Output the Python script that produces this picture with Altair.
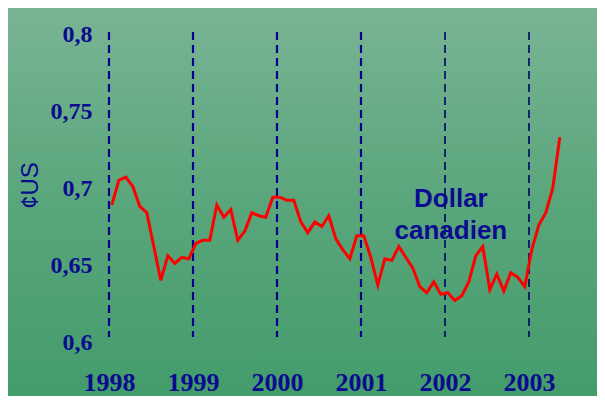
import altair as alt
import pandas as pd

# Monthly Canadian dollar in US cents (Jan 1998 .. May 2003)
values = [
    0.689, 0.705, 0.707, 0.701, 0.688, 0.684, 0.662, 0.640, 0.656, 0.651, 0.655, 0.654,
    0.664, 0.666, 0.666, 0.689, 0.681, 0.686, 0.666, 0.672, 0.684, 0.682, 0.681, 0.694,
    0.694, 0.692, 0.692, 0.678, 0.671, 0.678, 0.675, 0.682, 0.667, 0.660, 0.654, 0.669,
    0.669, 0.655, 0.637, 0.654, 0.653, 0.662, 0.655, 0.648, 0.636, 0.632, 0.639, 0.631,
    0.632, 0.627, 0.630, 0.639, 0.656, 0.662, 0.634, 0.644, 0.633, 0.645, 0.642, 0.636,
    0.660, 0.676, 0.684, 0.700, 0.733,
]
start_year = 1998
years = [1998, 1999, 2000, 2001, 2002, 2003]
y_ticks = [0.6, 0.65, 0.7, 0.75, 0.8]
label_lines = ["Dollar", "canadien"]

t = [start_year + (m + 0.4) / 12 for m in range(len(values))]
df = pd.DataFrame({"t": t, "v": values})
yr_old = pd.DataFrame({"year": years[:4]})
yr_new = pd.DataFrame({"year": years[4:]})

W, H = 462, 308
PL, PT, PR, PB = 101, 26, 26, 54
NAVY = "#0b0b8f"

xscale = alt.Scale(domain=[1998, 2003.5], nice=False, zero=False)
yscale = alt.Scale(domain=[0.6, 0.8], nice=False, zero=False)

grad = alt.LinearGradient(
    gradient="linear",
    stops=[alt.GradientStop(color="#79b494", offset=0),
           alt.GradientStop(color="#5aa67c", offset=0.5),
           alt.GradientStop(color="#439c6b", offset=1)],
    x1=0, x2=0, y1=0, y2=1,
)

bg = alt.Chart(pd.DataFrame({"a": [0]})).mark_rect(color=grad).encode(
    x=alt.value(-PL), x2=alt.value(W + PR), y=alt.value(-PT), y2=alt.value(H + PB)
)

rules_old = alt.Chart(yr_old).mark_rule(color="#000090", strokeWidth=2.2, strokeDash=[8, 5]).encode(
    x=alt.X("year:Q", scale=xscale),
    y=alt.datum(0.8013, scale=yscale),
    y2=alt.datum(0.6032),
)
rules_new = alt.Chart(yr_new).mark_rule(color="#00006a", strokeWidth=1.6, strokeDash=[8, 5]).encode(
    x=alt.X("year:Q", scale=xscale),
    y=alt.datum(0.8013, scale=yscale),
    y2=alt.datum(0.6032),
)

line = alt.Chart(df).mark_line(color="#ff0000", strokeWidth=3).encode(
    x=alt.X("t:Q", scale=xscale,
            axis=alt.Axis(values=years, format="d", title=None, grid=False, domain=False,
                          ticks=False, tickSize=0, labelPadding=27, labelFlush=False,
                          labelFont="Liberation Serif", labelFontWeight="bold",
                          labelFontSize=26, labelColor=NAVY, zindex=2)),
    y=alt.Y("v:Q", scale=yscale,
            axis=alt.Axis(values=y_ticks, title="¢US", grid=False, domain=False,
                          ticks=False, tickSize=0, labelPadding=17, labelFlush=False,
                          labelExpr="replace(format(datum.value, '.2~f'), '.', ',')",
                          labelFont="Liberation Serif", labelFontWeight="bold",
                          labelFontSize=24, labelColor=NAVY,
                          titleFont="Liberation Sans", titleFontWeight="normal",
                          titleFontSize=24, titleColor=NAVY,
                          titleX=-79, titleY=151, titleBaseline="middle", zindex=2)),
)

txt_style = dict(font="Liberation Sans", fontWeight="bold", fontSize=26, color="#0c0c90",
                 align="center", baseline="alphabetic")
t1 = alt.Chart(pd.DataFrame({"a": [0]})).mark_text(text=label_lines[0], **txt_style).encode(
    x=alt.datum(2002.07, scale=xscale), y=alt.datum(0.6877, scale=yscale))
t2 = alt.Chart(pd.DataFrame({"a": [0]})).mark_text(text=label_lines[1], **txt_style).encode(
    x=alt.datum(2002.07, scale=xscale), y=alt.datum(0.6669, scale=yscale))

chart = alt.layer(bg, rules_old, rules_new, line, t1, t2).properties(
    width=W, height=H,
    autosize=alt.AutoSizeParams(type="none"),
    padding={"left": PL, "top": PT, "right": PR, "bottom": PB},
    background="#5aa67c",
).configure_view(stroke=None)

chart.save("out.html", embed_options={"renderer": "svg", "actions": False})
